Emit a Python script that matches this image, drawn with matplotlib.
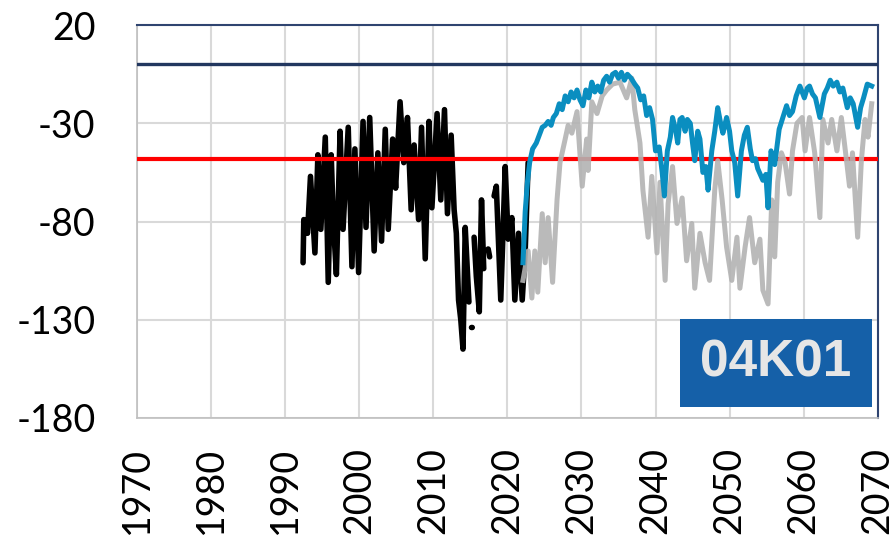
import numpy as np
import matplotlib
matplotlib.use("Agg")
from matplotlib import pyplot as plt
from matplotlib.patches import Rectangle

plt.rcParams["axes.unicode_minus"] = False
nan = np.nan

# observed levels (black)
obs_years = [1992.4, 1992.5, 1993.0, 1993.4, 1994.0, 1994.4, 1994.8, 1995.4, 1995.8, 1996.2,
             1996.5, 1996.9, 1997.4, 1997.8, 1998.5, 1999.0, 1999.4, 1999.9, 2000.5, 2000.9,
             2001.4, 2002.0, 2002.5, 2003.0, 2003.5, 2003.9, 2004.5, 2004.9, 2005.5, 2006.0,
             2006.5, 2007.0, 2007.4, 2008.0, 2008.4, 2008.9, 2009.4, 2009.8, 2010.5, 2011.0,
             2011.5, 2011.9, 2012.4, 2012.8, 2013.1, 2013.4, 2013.7, 2014.0, 2014.3, 2014.8,
             2015.0, 2015.15, 2015.25, 2015.4, 2015.5, 2015.8, 2016.2, 2016.5, 2016.8, 2017.1,
             2017.4, 2017.6, 2017.9, 2018.2, 2018.5, 2019.1, 2019.7, 2020.1, 2020.6, 2021.0,
             2021.5, 2022.0, 2022.4, 2022.8]
obs_vals = [-101, -79, -86, -57, -96, -46, -84, -37, -111, -46,
            -81, -107, -34, -84, -32, -103, -43, -106, -29, -83,
            -27, -95, -45, -90, -33, -84, -38, -63, -19, -50,
            -27, -74, -41, -79, -32, -99, -29, -73, -25, -69,
            -23, -76, -36, -74, -86, -120, -130, -145, -83, -121,
            nan, -134, -134, nan, -88, -108, -126, -69, -104, nan,
            -94, -98, nan, -67, -62, -120, -52, -89, -78, -120,
            -86, -120, -95, -50]

# scenario 1 (blue)
s1_years = [2022.1, 2022.4, 2022.7, 2023.0, 2023.4, 2023.9, 2024.3, 2024.7, 2025.1, 2025.5,
            2025.9, 2026.2, 2026.6, 2027.0, 2027.4, 2027.8, 2028.2, 2028.6, 2029.0, 2029.4,
            2029.8, 2030.2, 2030.6, 2031.0, 2031.4, 2031.8, 2032.2, 2032.6, 2033.0, 2033.4,
            2033.8, 2034.2, 2034.6, 2035.0, 2035.4, 2035.8, 2036.2, 2036.7, 2037.2, 2037.6,
            2038.0, 2038.4, 2038.8, 2039.2, 2039.6, 2040.0, 2040.5, 2040.9, 2041.2, 2041.6,
            2042.0, 2042.3, 2042.7, 2043.0, 2043.3, 2043.6, 2044.0, 2044.3, 2044.7, 2045.0,
            2045.3, 2045.7, 2046.0, 2046.4, 2046.8, 2047.1, 2047.6, 2048.0, 2048.4, 2048.8,
            2049.1, 2049.6, 2050.0, 2050.3, 2050.7, 2051.1, 2051.6, 2052.0, 2052.4, 2052.8,
            2053.1, 2053.5, 2053.8, 2054.5, 2054.9, 2055.2, 2055.6, 2056.1, 2056.7, 2057.2,
            2057.7, 2058.1, 2058.5, 2059.0, 2059.5, 2060.1, 2060.5, 2060.8, 2061.2, 2061.6,
            2062.2, 2062.8, 2063.2, 2063.6, 2064.0, 2064.5, 2064.9, 2065.3, 2065.9, 2066.3,
            2066.7, 2067.3, 2067.7, 2068.1, 2068.6, 2069.2]
s1_vals = [-101, -75, -60, -50, -43, -40, -36, -32, -31, -29,
           -31, -27, -25, -20, -23, -16, -19, -14, -17, -13,
           -18, -21, -13, -17, -9, -14, -11, -14, -8, -6,
           -9, -5, -4, -7, -4, -8, -5, -7, -10, -12,
           -18, -16, -26, -22, -28, -44, -42, -55, -67, -44,
           -37, -27, -33, -40, -28, -27, -34, -28, -30, -40,
           -49, -34, -38, -55, -52, -64, -44, -34, -22, -30,
           -35, -27, -34, -44, -50, -67, -44, -36, -32, -43,
           -49, -48, -53, -59, -56, -73, -44, -51, -33, -27,
           -21, -26, -24, -16, -11, -17, -12, -11, -15, -17,
           -27, -15, -12, -8, -11, -9, -14, -12, -22, -17,
           -20, -32, -22, -17, -10, -11]

# scenario 2 (grey)
s2_years = [2022.1, 2022.8, 2023.3, 2023.7, 2024.1, 2024.7, 2025.1, 2025.5, 2026.1, 2026.7,
            2027.1, 2027.8, 2028.2, 2028.7, 2029.4, 2030.1, 2030.7, 2030.9, 2031.4, 2032.1,
            2032.8, 2033.4, 2034.2, 2035.2, 2036.1, 2036.8, 2037.2, 2037.9, 2038.3, 2039.0,
            2039.5, 2040.2, 2040.6, 2041.3, 2041.7, 2042.3, 2042.9, 2043.6, 2044.2, 2044.9,
            2045.3, 2046.0, 2046.7, 2047.3, 2048.0, 2048.4, 2049.0, 2049.6, 2050.3, 2051.0,
            2051.4, 2052.1, 2052.7, 2053.4, 2054.1, 2054.5, 2055.2, 2055.7, 2056.1, 2056.5,
            2057.0, 2057.5, 2058.1, 2058.5, 2059.1, 2059.8, 2060.2, 2060.8, 2061.5, 2062.2,
            2062.6, 2063.3, 2063.8, 2064.5, 2065.1, 2065.8, 2066.2, 2066.6, 2067.3, 2067.8,
            2068.3, 2068.7, 2069.2]
s2_vals = [-110, -95, -119, -95, -116, -76, -101, -78, -111, -69,
           -50, -38, -31, -35, -24, -62, -38, -54, -19, -25,
           -16, -13, -10, -9, -17, -7, -23, -40, -64, -88,
           -57, -96, -60, -110, -71, -52, -81, -68, -100, -81,
           -114, -86, -101, -110, -64, -49, -69, -93, -110, -88,
           -114, -93, -78, -101, -89, -115, -122, -69, -98, -60,
           -45, -50, -66, -44, -30, -27, -44, -27, -45, -78,
           -28, -40, -28, -44, -27, -49, -62, -45, -88, -49,
           -28, -37, -20]

upper_level = 0
lower_level = -48
well_id = "04K01"

x_ticks = list(range(1970, 2071, 10))
y_ticks = [20, -30, -80, -130, -180]

fig = plt.figure(figsize=(8.91, 5.37), dpi=100)
ax = fig.add_axes([0.154, 0.222, 0.831, 0.731])

ax.plot(obs_years, obs_vals, color="black", lw=4.0, solid_capstyle="round", zorder=3)
ax.axhline(lower_level, color="#FF0000", lw=3.0, zorder=4)
ax.plot(s2_years, s2_vals, color="#B3B3B3", lw=3.6, alpha=0.9, zorder=5)
ax.plot(s1_years, s1_vals, color="#0A8EC0", lw=3.6, zorder=6)
ax.axhline(upper_level, color="#22375F", lw=2.4, zorder=7)

ax.set_xlim(1970, 2070)
ax.set_ylim(-180, 20)
ax.set_xticks(x_ticks)
ax.set_yticks(y_ticks)
ax.grid(True, color="#D9D9D9", lw=1.5)
ax.set_axisbelow(True)
ax.tick_params(axis="y", length=0, labelsize=27, pad=30)
ax.tick_params(axis="x", length=0, labelsize=27, pad=21)
for lab in ax.get_xticklabels():
    lab.set_rotation(90)
for lab in ax.get_xticklabels() + ax.get_yticklabels():
    lab.set_family("Lato")

for s in ["left", "bottom"]:
    ax.spines[s].set_color("#BFBFBF")
    ax.spines[s].set_linewidth(1.2)
for s in ["top", "right"]:
    ax.spines[s].set_color("#2F4470")
    ax.spines[s].set_linewidth(1.5)

ax.add_patch(Rectangle((0.733, 0.028), 0.259, 0.224, transform=ax.transAxes,
                       fc="#1560A8", ec="none", zorder=9))
ax.text(0.8625, 0.14, well_id, transform=ax.transAxes, ha="center", va="center",
        fontsize=37, fontweight="bold", family="Liberation Sans", color="#E6E6E6",
        zorder=10)

fig.savefig("out.png", dpi=100)
